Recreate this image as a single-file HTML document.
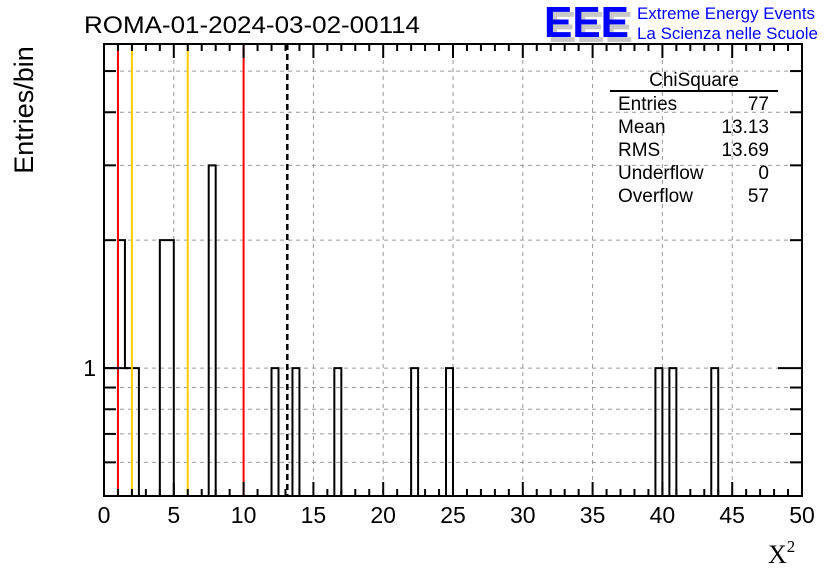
<!DOCTYPE html>
<html><head><meta charset="utf-8"><style>
body{margin:0;background:#fff}
svg text{font-family:"Liberation Sans",sans-serif}
</style></head><body>
<svg width="836" height="572" xmlns="http://www.w3.org/2000/svg" id="chart">
<g>
<text x="548" y="42" font-size="44" font-weight="bold" fill="#c8c8c8" textLength="85" lengthAdjust="spacingAndGlyphs">EEE</text>
<text x="544" y="37" font-size="44" font-weight="bold" fill="#0000ff" textLength="85" lengthAdjust="spacingAndGlyphs">EEE</text>
<text x="637" y="19" font-size="16.5" fill="#0000ff" textLength="178" lengthAdjust="spacingAndGlyphs">Extreme Energy Events</text>
<text x="637" y="39" font-size="16.5" fill="#0000ff" textLength="181" lengthAdjust="spacingAndGlyphs">La Scienza nelle Scuole</text>
</g>
<text x="84" y="33" font-size="24.5" fill="#000" textLength="336" lengthAdjust="spacingAndGlyphs">ROMA-01-2024-03-02-00114</text>
<g id="grid"></g>
<g id="bars"></g>
<g id="lines"></g>
<g id="axes"></g>
<g font-size="19">
<text x="694" y="86" text-anchor="middle">ChiSquare</text>
<line x1="610" y1="91" x2="778" y2="91" stroke="#000" stroke-width="2"/>
<text x="618" y="110">Entries</text><text x="769" y="110" text-anchor="end">77</text>
<text x="618" y="133">Mean</text><text x="769" y="133" text-anchor="end">13.13</text>
<text x="618" y="156">RMS</text><text x="769" y="156" text-anchor="end">13.69</text>
<text x="618" y="179">Underflow</text><text x="769" y="179" text-anchor="end">0</text>
<text x="618" y="202">Overflow</text><text x="769" y="202" text-anchor="end">57</text>
</g>
<text x="33" y="110" font-size="27" transform="rotate(-90 33 110)" text-anchor="middle">Entries/bin</text>
<text x="768" y="563" font-size="26" style="font-family:'Liberation Serif',serif">X<tspan font-size="17" dy="-11">2</tspan></text>
</svg>
<script>
const binLow = [0,0.5,1,1.5,2,4,4.5,7.5,12,13.5,16.5,22,24.5,39.5,40.5,43.5];
const binCounts = [1,1,2,1,1,2,2,3,1,1,1,1,1,1,1,1];
const xTicks = [0,5,10,15,20,25,30,35,40,45,50];
const yMajor = [1];
const yMinor = [0.6,0.7,0.8,0.9,2,3,4,5];
const redLines = [1,10];
const yellowLines = [2,6];
const meanLine = [13.13];
const binWidth = 0.5;
const L=104,R=802,T=44,B=496,xMin=0,xMax=50,yMin=0.5,yMax=5.79;
const X=v=>L+(v-xMin)/(xMax-xMin)*(R-L);
const Y=v=>v<=yMin?B:B-(Math.log10(v)-Math.log10(yMin))/(Math.log10(yMax)-Math.log10(yMin))*(B-T);
const NS='http://www.w3.org/2000/svg';
function mk(tag,parent,attrs){const e=document.createElementNS(NS,tag);for(const k in attrs)e.setAttribute(k,attrs[k]);document.getElementById(parent).appendChild(e);return e;}
xTicks.forEach(t=>{if(t>xMin&&t<xMax){const g=mk('line','grid',{x1:X(t),x2:X(t),y1:T,y2:B,stroke:'#999','stroke-dasharray':'4,4'});

}});
yMajor.concat(yMinor).forEach(t=>{const g=mk('line','grid',{x1:L,x2:R,y1:Y(t),y2:Y(t),stroke:'#999','stroke-dasharray':'4,4'});

});
// step outline of the histogram, built from bins
const nb=Math.round((xMax-xMin)/binWidth);
const full=new Array(nb).fill(0);
binLow.forEach((b,i)=>{full[Math.round((b-xMin)/binWidth)]=binCounts[i];});
let d='M'+X(xMin)+','+B;
for(let i=0;i<nb;i++){const x0=X(xMin+i*binWidth),x1=X(xMin+(i+1)*binWidth),y=Y(full[i]);d+=' L'+x0+','+y+' L'+x1+','+y;}
d+=' L'+X(xMax)+','+B;
const p=mk('path','bars',{d:d,fill:'none',stroke:'#000','stroke-width':2});


redLines.forEach(v=>{const l=mk('line','lines',{x1:X(v),x2:X(v),y1:T,y2:B,stroke:'#ff0000','stroke-width':2});

});
yellowLines.forEach(v=>{const l=mk('line','lines',{x1:X(v),x2:X(v),y1:T,y2:B,stroke:'#ffcc00','stroke-width':2});

});
meanLine.forEach(v=>{const l=mk('line','lines',{x1:X(v),x2:X(v),y1:T,y2:B,stroke:'#000','stroke-width':2.5,'stroke-dasharray':'6,4'});

});
const f=mk('rect','axes',{x:L,y:T,width:R-L,height:B-T,fill:'none',stroke:'#000','stroke-width':2});


for(let v=xMin;v<=xMax+1e-9;v+=1){const major=v%5===0;const len=major?14:7;
mk('line','axes',{x1:X(v),x2:X(v),y1:B,y2:B-len,stroke:'#000','stroke-width':2});
mk('line','axes',{x1:X(v),x2:X(v),y1:T,y2:T+len,stroke:'#000','stroke-width':2});}
xTicks.forEach(t=>{const tx=mk('text','axes',{x:X(t),y:B+27,'font-size':23,'text-anchor':'middle'});tx.textContent=t;

});
yMajor.concat(yMinor).forEach(t=>{const len=yMajor.includes(t)?24:12;
mk('line','axes',{x1:L,x2:L+len,y1:Y(t),y2:Y(t),stroke:'#000','stroke-width':2});
mk('line','axes',{x1:R,x2:R-len,y1:Y(t),y2:Y(t),stroke:'#000','stroke-width':2});});
yMajor.forEach(t=>{const tx=mk('text','axes',{x:L-8,y:Y(t)+8,'font-size':23,'text-anchor':'end'});tx.textContent=t;

});
</script>
</body></html>
